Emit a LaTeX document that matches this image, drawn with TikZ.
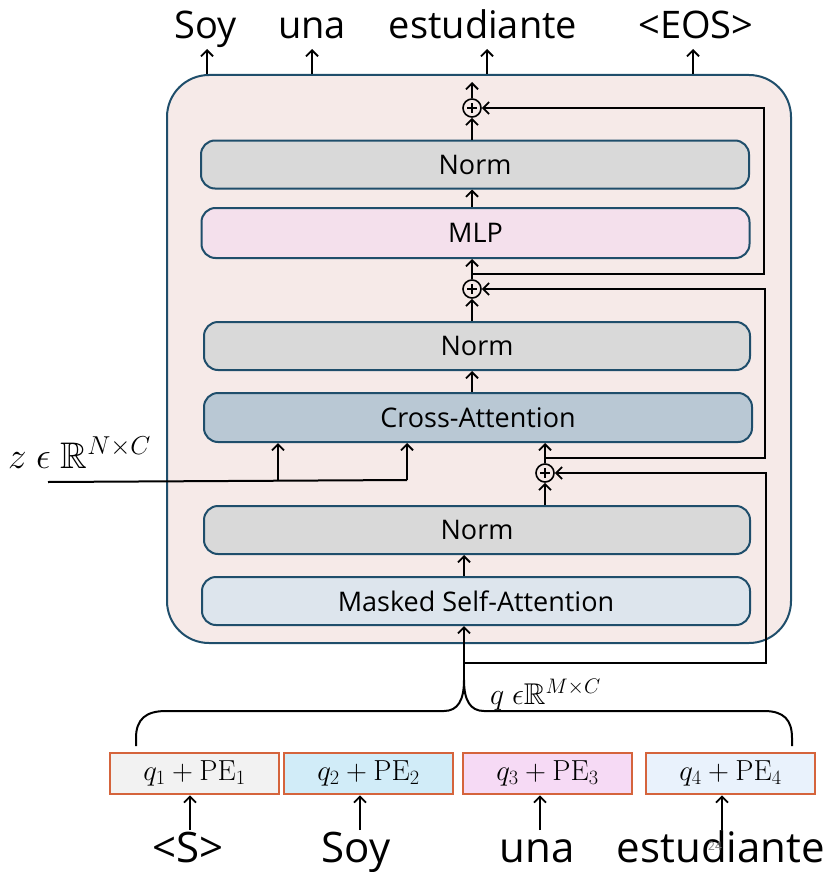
\RequirePackage{fix-cm}
\documentclass[tikz,border=0pt]{standalone}
\usepackage{amssymb}
\usepackage[no-math]{fontspec}
\setmainfont{Open Sans}
\usetikzlibrary{arrows.meta}
\definecolor{bordc}{HTML}{1F4E6B}
\definecolor{outerc}{HTML}{F6EAE8}
\definecolor{normc}{HTML}{D9D9D9}
\definecolor{mlpc}{HTML}{F4E0EC}
\definecolor{crossc}{HTML}{B9C8D4}
\definecolor{maskc}{HTML}{DDE5ED}
\definecolor{qbord}{HTML}{D5643C}
\definecolor{qa}{HTML}{F2F2F2}
\definecolor{qb}{HTML}{D1ECF8}
\definecolor{qc}{HTML}{F6DAF5}
\definecolor{qd}{HTML}{E9F2FC}
\tikzset{
  blk/.style={draw=bordc, line width=2pt, rounded corners=14pt, minimum width=548pt,
    minimum height=48pt, inner sep=0pt, font=\fontsize{27}{30}\selectfont},
  conn/.style={line width=2pt, -{Straight Barb[length=6pt,width=12pt,line width=1.8pt]}},
  wire/.style={line width=2pt},
  addnode/.style={circle, draw, fill=outerc, line width=1.6pt, minimum size=18pt, inner sep=0pt,
    path picture={
      \draw[line width=1.4pt] ([xshift=-5pt]path picture bounding box.center) -- ([xshift=5pt]path picture bounding box.center);
      \draw[line width=1.4pt] ([yshift=-5pt]path picture bounding box.center) -- ([yshift=5pt]path picture bounding box.center);
    }},
  topw/.style={anchor=base, inner sep=0pt, font=\fontsize{38}{40}\selectfont},
  botw/.style={anchor=base, inner sep=0pt, font=\fontsize{42}{44}\selectfont},
  qbox/.style={draw=qbord, line width=2.6pt, minimum width=169pt, minimum height=41pt, inner sep=0pt,
    font=\fontsize{29}{32}\selectfont},
}
\begin{document}
\begin{tikzpicture}[x=1pt,y=-1pt]
\useasboundingbox (0,0) rectangle (836,872);

% outer decoder block
\node[draw=bordc, fill=outerc, line width=2pt, rounded corners=42pt, minimum width=624pt,
  minimum height=568pt, inner sep=0pt] (outer) at (479,359) {};

% output words
\node[topw] (o1) at (206,39) {Soy};
\node[topw] (o2) at (312,39) {una};
\node[topw] (o3) at (483,39) {estudiante};
\node[topw] (o4) at (696,39) {<EOS>};
\coordinate (otip) at (0,49);
\coordinate (o1x) at (207,0);
\coordinate (o2x) at (312,0);
\coordinate (o3x) at (487,0);
\coordinate (o4x) at (693,0);
\draw[conn] (o1x |- outer.north) -- (o1x |- otip);
\draw[conn] (o2x |- outer.north) -- (o2x |- otip);
\draw[conn] (o3x |- outer.north) -- (o3x |- otip);
\draw[conn] (o4x |- outer.north) -- (o4x |- otip);

% blocks
\node[blk, fill=normc] (normT) at (475,164.5) {Norm};
\node[blk, fill=mlpc, minimum height=50pt] (mlp) at (475.5,233) {MLP};
\node[blk, fill=normc, minimum width=546pt] (normM) at (477,346) {Norm};
\node[blk, fill=crossc, minimum height=49pt] (cross) at (478,417.5) {Cross-Attention};
\node[blk, fill=normc, minimum width=546pt] (normB) at (477,530) {Norm};
\node[blk, fill=maskc] (mask) at (476,601) {Masked Self-Attention};

% add nodes
\node[addnode] (p1) at (472,108) {};
\node[addnode] (p2) at (472,289) {};
\node[addnode] (p3) at (545,473) {};

% main column
\coordinate (ptop) at (0,82);
\draw[conn] (p1.north) -- (p1 |- ptop);
\draw[conn] (normT.north -| p1) -- (p1.south);
\draw[conn] (mlp.north -| p1) -- (normT.south -| p1);
\draw[conn] (p2.north) -- (mlp.south -| p2);
\draw[conn] (normM.north -| p2) -- (p2.south);
\draw[conn] (cross.north -| p2) -- (normM.south -| p2);
\draw[conn] (p3.north) -- (cross.south -| p3);
\draw[conn] (normB.north -| p3) -- (p3.south);

% residual loops
\coordinate (b1) at (472,274);
\coordinate (b2) at (545,458);
\coordinate (b3) at (464,663);
\coordinate (r1) at (764,0);
\coordinate (r2) at (765,0);
\coordinate (r3) at (766,0);
\draw[conn] (b1) -- (b1 -| r1) |- (p1.east);
\draw[conn] (b2) -- (b2 -| r2) |- (p2.east);
\draw[conn] (b3) -- (b3 -| r3) |- (p3.east);

% encoder memory
\node[anchor=base west, inner sep=0pt, font=\fontsize{37}{40}\selectfont] (zlab) at (8,468) {$z\ \epsilon\ \mathbb{R}^{N\times C}$};
\coordinate (zs) at (48,482);
\coordinate (zk) at (407,480);
\coordinate (zm) at (278,481);
\draw[wire] (zs) -- (zk);
\draw[conn] (zm) -- (cross.south -| zm);
\draw[conn] (zk) -- (cross.south -| zk);

% query input
\coordinate (tip) at (464,680);
\draw[conn] (tip) -- (mask.south -| tip);
\draw[conn] (mask.north -| tip) -- (normB.south -| tip);
\draw[wire] (136,746) -- (136,738) .. controls (136,719) and (146,711) .. (166,711)
  -- (444,711) .. controls (458,711) and (464,700) .. (tip)
  .. controls (464,700) and (470,711) .. (484,711)
  -- (764,711) .. controls (784,711) and (792,720) .. (792,738) -- (792,746);
\node[anchor=base west, inner sep=0pt, font=\fontsize{30}{32}\selectfont] (qlab) at (490,704) {$q\ \epsilon\mathbb{R}^{M\times C}$};

% query boxes
\node[qbox, fill=qa] (q1) at (194.5,773.5) {$q_1+\mathrm{PE}_1$};
\node[qbox, fill=qb] (q2) at (368.5,773.5) {$q_2+\mathrm{PE}_2$};
\node[qbox, fill=qc] (q3) at (547.5,773.5) {$q_3+\mathrm{PE}_3$};
\node[qbox, fill=qd] (q4) at (730.5,773.5) {$q_4+\mathrm{PE}_4$};

% input words
\node[botw] (w1) at (188,862) {<S>};
\node[botw] (w2) at (356,862) {Soy};
\node[botw] (w3) at (537,862) {una};
\node[botw] (w4) at (721,862) {estudiante};
\coordinate (wl) at (0,830);
\coordinate (w1x) at (190,0);
\coordinate (w2x) at (360,0);
\coordinate (w3x) at (540,0);
\coordinate (w4x) at (722,0);
\draw[conn] (w1x |- wl) -- (w1x |- q1.south);
\draw[conn] (w2x |- wl) -- (w2x |- q2.south);
\draw[conn] (w3x |- wl) -- (w3x |- q3.south);
\draw[conn] (w4x |- wl) -- (w4x |- q4.south);

\node[inner sep=0pt, text=gray, font=\fontsize{12}{12}\selectfont] (pg) at (715,846) {24};
\end{tikzpicture}
\end{document}
